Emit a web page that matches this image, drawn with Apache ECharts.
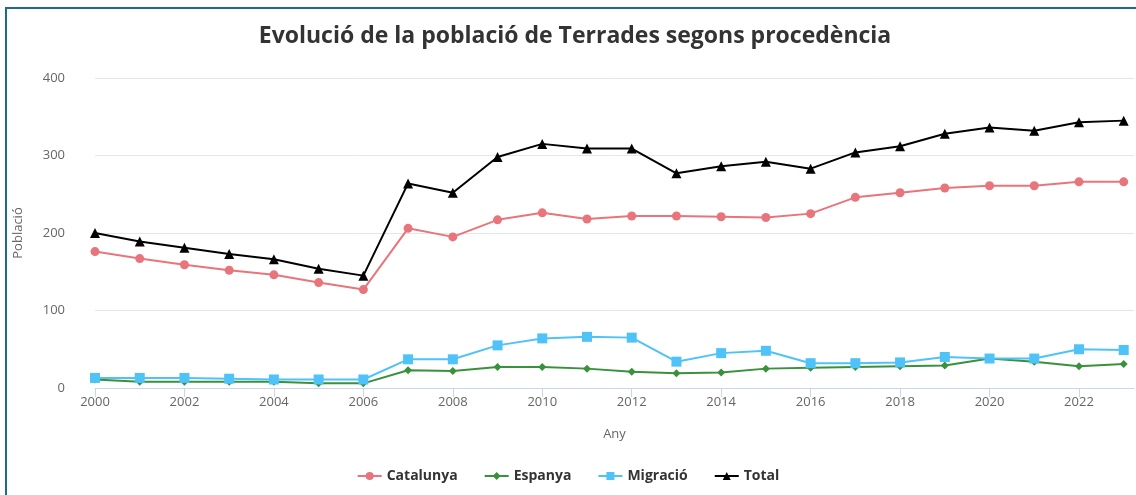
<!DOCTYPE html>
<html>
<head>
<meta charset="utf-8">
<script src="https://cdn.jsdelivr.net/npm/echarts@6/dist/echarts.min.js"></script>
<style>
  html, body { margin: 0; padding: 0; background: #fff; overflow: hidden; }
  #chart { position: absolute; left: 0; top: 0; width: 1136px; height: 495px; }
  #frame { position: absolute; left: 5px; top: 7px; width: 2000px; height: 2000px;
           border-left: 2px solid #1d6a8c; border-top: 2px solid #1d6a8c; pointer-events: none; }
</style>
</head>
<body>
<div id="chart"></div>
<div id="frame"></div>
<script>
const years = [2000, 2001, 2002, 2003, 2004, 2005, 2006, 2007, 2008, 2009, 2010, 2011,
  2012, 2013, 2014, 2015, 2016, 2017, 2018, 2019, 2020, 2021, 2022, 2023];
const catalunya = [176, 167, 159, 152, 146, 136, 127, 206, 195, 217, 226, 218,
  222, 222, 221, 220, 225, 246, 252, 258, 261, 261, 266, 266];
const espanya = [11, 8, 8, 8, 8, 6, 6, 23, 22, 27, 27, 25,
  21, 19, 20, 25, 26, 27, 28, 29, 38, 34, 28, 31];
const migracio = [13, 13, 13, 12, 11, 11, 11, 37, 37, 55, 64, 66,
  65, 34, 45, 48, 32, 32, 33, 40, 38, 38, 50, 49];
const total = [200, 189, 181, 173, 166, 154, 145, 264, 252, 298, 315, 309,
  309, 277, 286, 292, 283, 304, 312, 328, 336, 332, 343, 345];
const xTicks = [2000, 2002, 2004, 2006, 2008, 2010, 2012, 2014, 2016, 2018, 2020, 2022];

const pairs = (vals) => years.map((y, i) => [y, vals[i]]);
const font = '"Open Sans", sans-serif';

const series = [
  { name: 'Catalunya', data: catalunya, color: '#e8757b', symbol: 'circle', symbolSize: 9 },
  { name: 'Espanya', data: espanya, color: '#3a913b', symbol: 'diamond', symbolSize: 8 },
  { name: 'Migració', data: migracio, color: '#4fc3f7', symbol: 'rect', symbolSize: 10 },
  { name: 'Total', data: total, color: '#000000', symbol: 'triangle', symbolSize: 10 },
].map((s) => ({
  type: 'line',
  name: s.name,
  data: pairs(s.data),
  symbol: s.symbol,
  symbolSize: s.symbolSize,
  showAllSymbol: true,
  itemStyle: { color: s.color },
  lineStyle: { color: s.color, width: 2 },
  animation: false,
}));

const chart = echarts.init(document.getElementById('chart'), null, { renderer: 'canvas' });
chart.setOption({
  textStyle: { fontFamily: font },
  title: {
    text: 'Evolució de la població de Terrades segons procedència',
    left: 570,
    top: 20,
    textAlign: 'center',
    textStyle: { fontFamily: font, fontSize: 23, fontWeight: 'bold', color: '#333' },
  },
  legend: {
    bottom: 7,
    left: 'center',
    itemWidth: 24,
    itemHeight: 10,
    itemGap: 26,
    textStyle: { fontFamily: font, fontSize: 14, fontWeight: 'bold', color: '#333' },
  },
  grid: { left: 95, right: 2, top: 78, bottom: 107 },
  xAxis: {
    type: 'value',
    min: 2000,
    max: 2023.23,
    name: 'Any',
    nameLocation: 'middle',
    nameGap: 40,
    nameTextStyle: { fontFamily: font, fontSize: 13, color: '#666' },
    axisLine: { show: true, lineStyle: { color: '#ccd6eb' } },
    axisTick: { show: true, length: 9, lineStyle: { color: '#ccd6eb' }, customValues: xTicks },
    axisLabel: { color: '#666', fontSize: 13, fontFamily: font, margin: 8, customValues: xTicks, formatter: (v) => String(v) },
    splitLine: { show: false },
  },
  yAxis: {
    type: 'value',
    min: 0,
    max: 400,
    interval: 100,
    name: 'Població',
    nameLocation: 'middle',
    nameGap: 70,
    nameTextStyle: { fontFamily: font, fontSize: 13, color: '#666' },
    axisLine: { show: false },
    axisTick: { show: false },
    axisLabel: { color: '#666', fontSize: 13, fontFamily: font, margin: 30 },
    splitLine: { lineStyle: { color: '#e6e6e6' } },
  },
  series,
});
</script>
</body>
</html>
